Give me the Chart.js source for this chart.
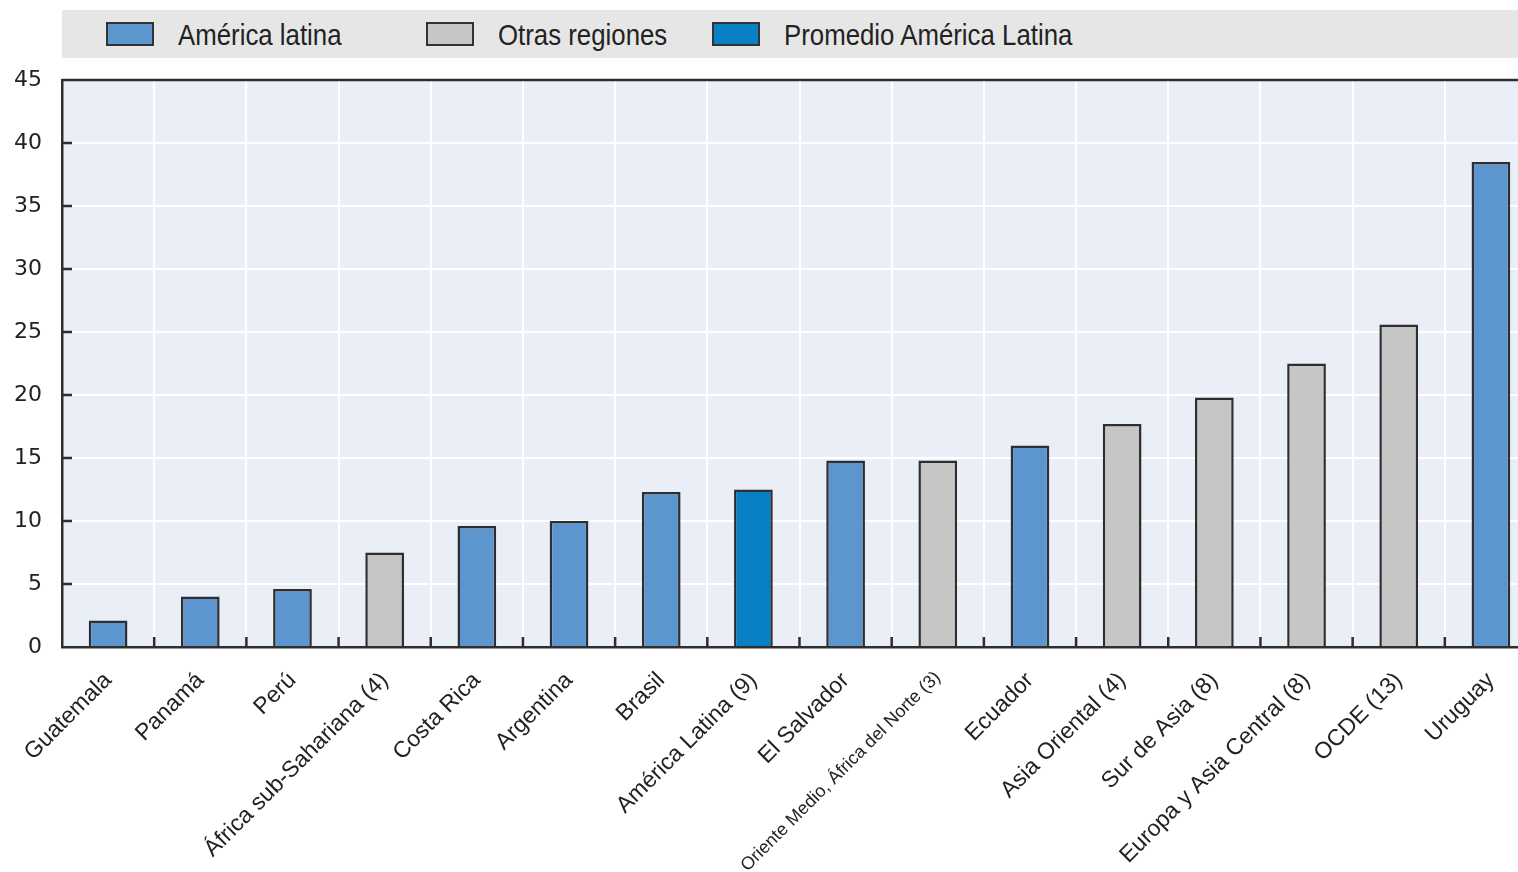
<!DOCTYPE html>
<html>
<head>
<meta charset="utf-8">
<script src="https://cdn.jsdelivr.net/npm/chart.js@4.4.1/dist/chart.umd.min.js"></script>
<style>
    body { margin: 0; overflow: hidden; background: #fff; width: 1518px; height: 872px; }
    #wrap { position: absolute; left: 0; top: 0; width: 1540px; height: 872px; }
    .legend { position: absolute; left: 62px; top: 10px; width: 1456px; height: 48px; background: #e6e6e6;
              font-family: 'Liberation Sans', Arial, sans-serif; font-size: 29px; color: #222; }
    .legend__item { position: absolute; top: 0; height: 48px; display: flex; align-items: center; }
    .legend__box { width: 44px; height: 20px; border: 2px solid #333; margin-right: 24px; flex: none; }
    .legend__item span { display: inline-block; transform: scaleX(0.89); transform-origin: left center; white-space: nowrap; margin-top: 3px; }
</style>
</head>
<body>
<div id="wrap"><canvas id="chart" width="1540" height="872"></canvas></div>
<div class="legend" id="legend"></div>
<script>
// --- data ---
const categories = ['Guatemala', 'Panamá', 'Perú', 'África sub-Sahariana (4)', 'Costa Rica', 'Argentina', 'Brasil',
    'América Latina (9)', 'El Salvador', 'Oriente Medio, África del Norte (3)', 'Ecuador', 'Asia Oriental (4)',
    'Sur de Asia (8)', 'Europa y Asia Central (8)', 'OCDE (13)', 'Uruguay'];
const values = [2.1, 4.0, 4.6, 7.5, 9.6, 10.0, 12.3, 12.5, 14.8, 14.8, 16.0, 17.7, 19.8, 22.5, 25.6, 38.5];
// 0 = América latina, 1 = Otras regiones, 2 = Promedio América Latina
const groups = [0, 0, 0, 1, 0, 0, 0, 2, 0, 1, 0, 1, 1, 1, 1, 0];
const groupNames = ['América latina', 'Otras regiones', 'Promedio América Latina'];
const groupColors = ['#5d96cf', '#c6c6c6', '#0880c6'];
const yTicks = [0, 5, 10, 15, 20, 25, 30, 35, 40, 45];

const plotBg = '#e9eef7';
const dark = '#2e2e2e';

// legend (HTML)
const legendLeft = [44, 364, 650];
const legendEl = document.getElementById('legend');
groupNames.forEach((name, i) => {
    const item = document.createElement('div');
    item.className = 'legend__item';
    item.style.left = legendLeft[i] + 'px';
    item.innerHTML = `<div class="legend__box" style="background:${groupColors[i]}"></div><span>${name}</span>`;
    legendEl.appendChild(item);
});

// plot background, top border and inside tick marks
const framePlugin = {
    id: 'frame',
    beforeDraw(chart) {
        const { ctx, chartArea: a } = chart;
        ctx.save();
        ctx.fillStyle = plotBg;
        ctx.fillRect(a.left, a.top, a.right - a.left, a.bottom - a.top);
        ctx.restore();
    },
    afterDatasetsDraw(chart) {
        const { ctx, chartArea: a, scales } = chart;
        ctx.save();
        ctx.strokeStyle = dark;
        ctx.lineWidth = 2.5;
        ctx.beginPath();
        ctx.moveTo(a.left, a.top);
        ctx.lineTo(a.right, a.top);
        yTicks.slice(1, -1).forEach(v => {
            const y = scales.y.getPixelForValue(v);
            ctx.moveTo(a.left, y);
            ctx.lineTo(a.left + 10, y);
        });
        for (let i = 1; i < categories.length; i++) {
            const x = (scales.x.getPixelForValue(i - 1) + scales.x.getPixelForValue(i)) / 2;
            ctx.moveTo(x, a.bottom);
            ctx.lineTo(x, a.bottom - 10);
        }
        ctx.stroke();
        ctx.restore();
    }
};

const ctx = document.getElementById('chart').getContext('2d');
new Chart(ctx, {
    type: 'bar',
    data: {
        labels: categories,
        datasets: [{
            data: values,
            backgroundColor: groups.map(g => groupColors[g]),
            borderColor: dark,
            borderWidth: 2.5,
            borderSkipped: 'bottom',
            categoryPercentage: 1,
            barPercentage: 0.42
        }]
    },
    options: {
        responsive: false,
        animation: false,
        layout: { padding: { top: 80, right: 3, left: 0, bottom: 0 } },
        plugins: { legend: { display: false }, tooltip: { enabled: false } },
        scales: {
            x: {
                grid: { color: '#ffffff', lineWidth: 2, drawTicks: false },
                border: { color: dark, width: 2.5 },
                ticks: {
                    minRotation: 45, maxRotation: 45, padding: 20,
                    color: '#222',
                    font: c => ({ family: "'Liberation Sans', Arial, sans-serif", size: c.index === 9 ? 18 : 23 })
                },
                afterFit: s => { s.height = 225; }
            },
            y: {
                min: 0, max: 45,
                afterBuildTicks: s => { s.ticks = yTicks.map(v => ({ value: v })); },
                grid: { color: '#ffffff', lineWidth: 2, drawTicks: false },
                border: { color: dark, width: 2.5 },
                ticks: {
                    padding: 20,
                    color: '#222',
                    font: { family: "'DejaVu Sans', sans-serif", size: 22 }
                },
                afterFit: s => { s.width = 62; }
            }
        }
    },
    plugins: [framePlugin]
});
</script>
</body>
</html>
